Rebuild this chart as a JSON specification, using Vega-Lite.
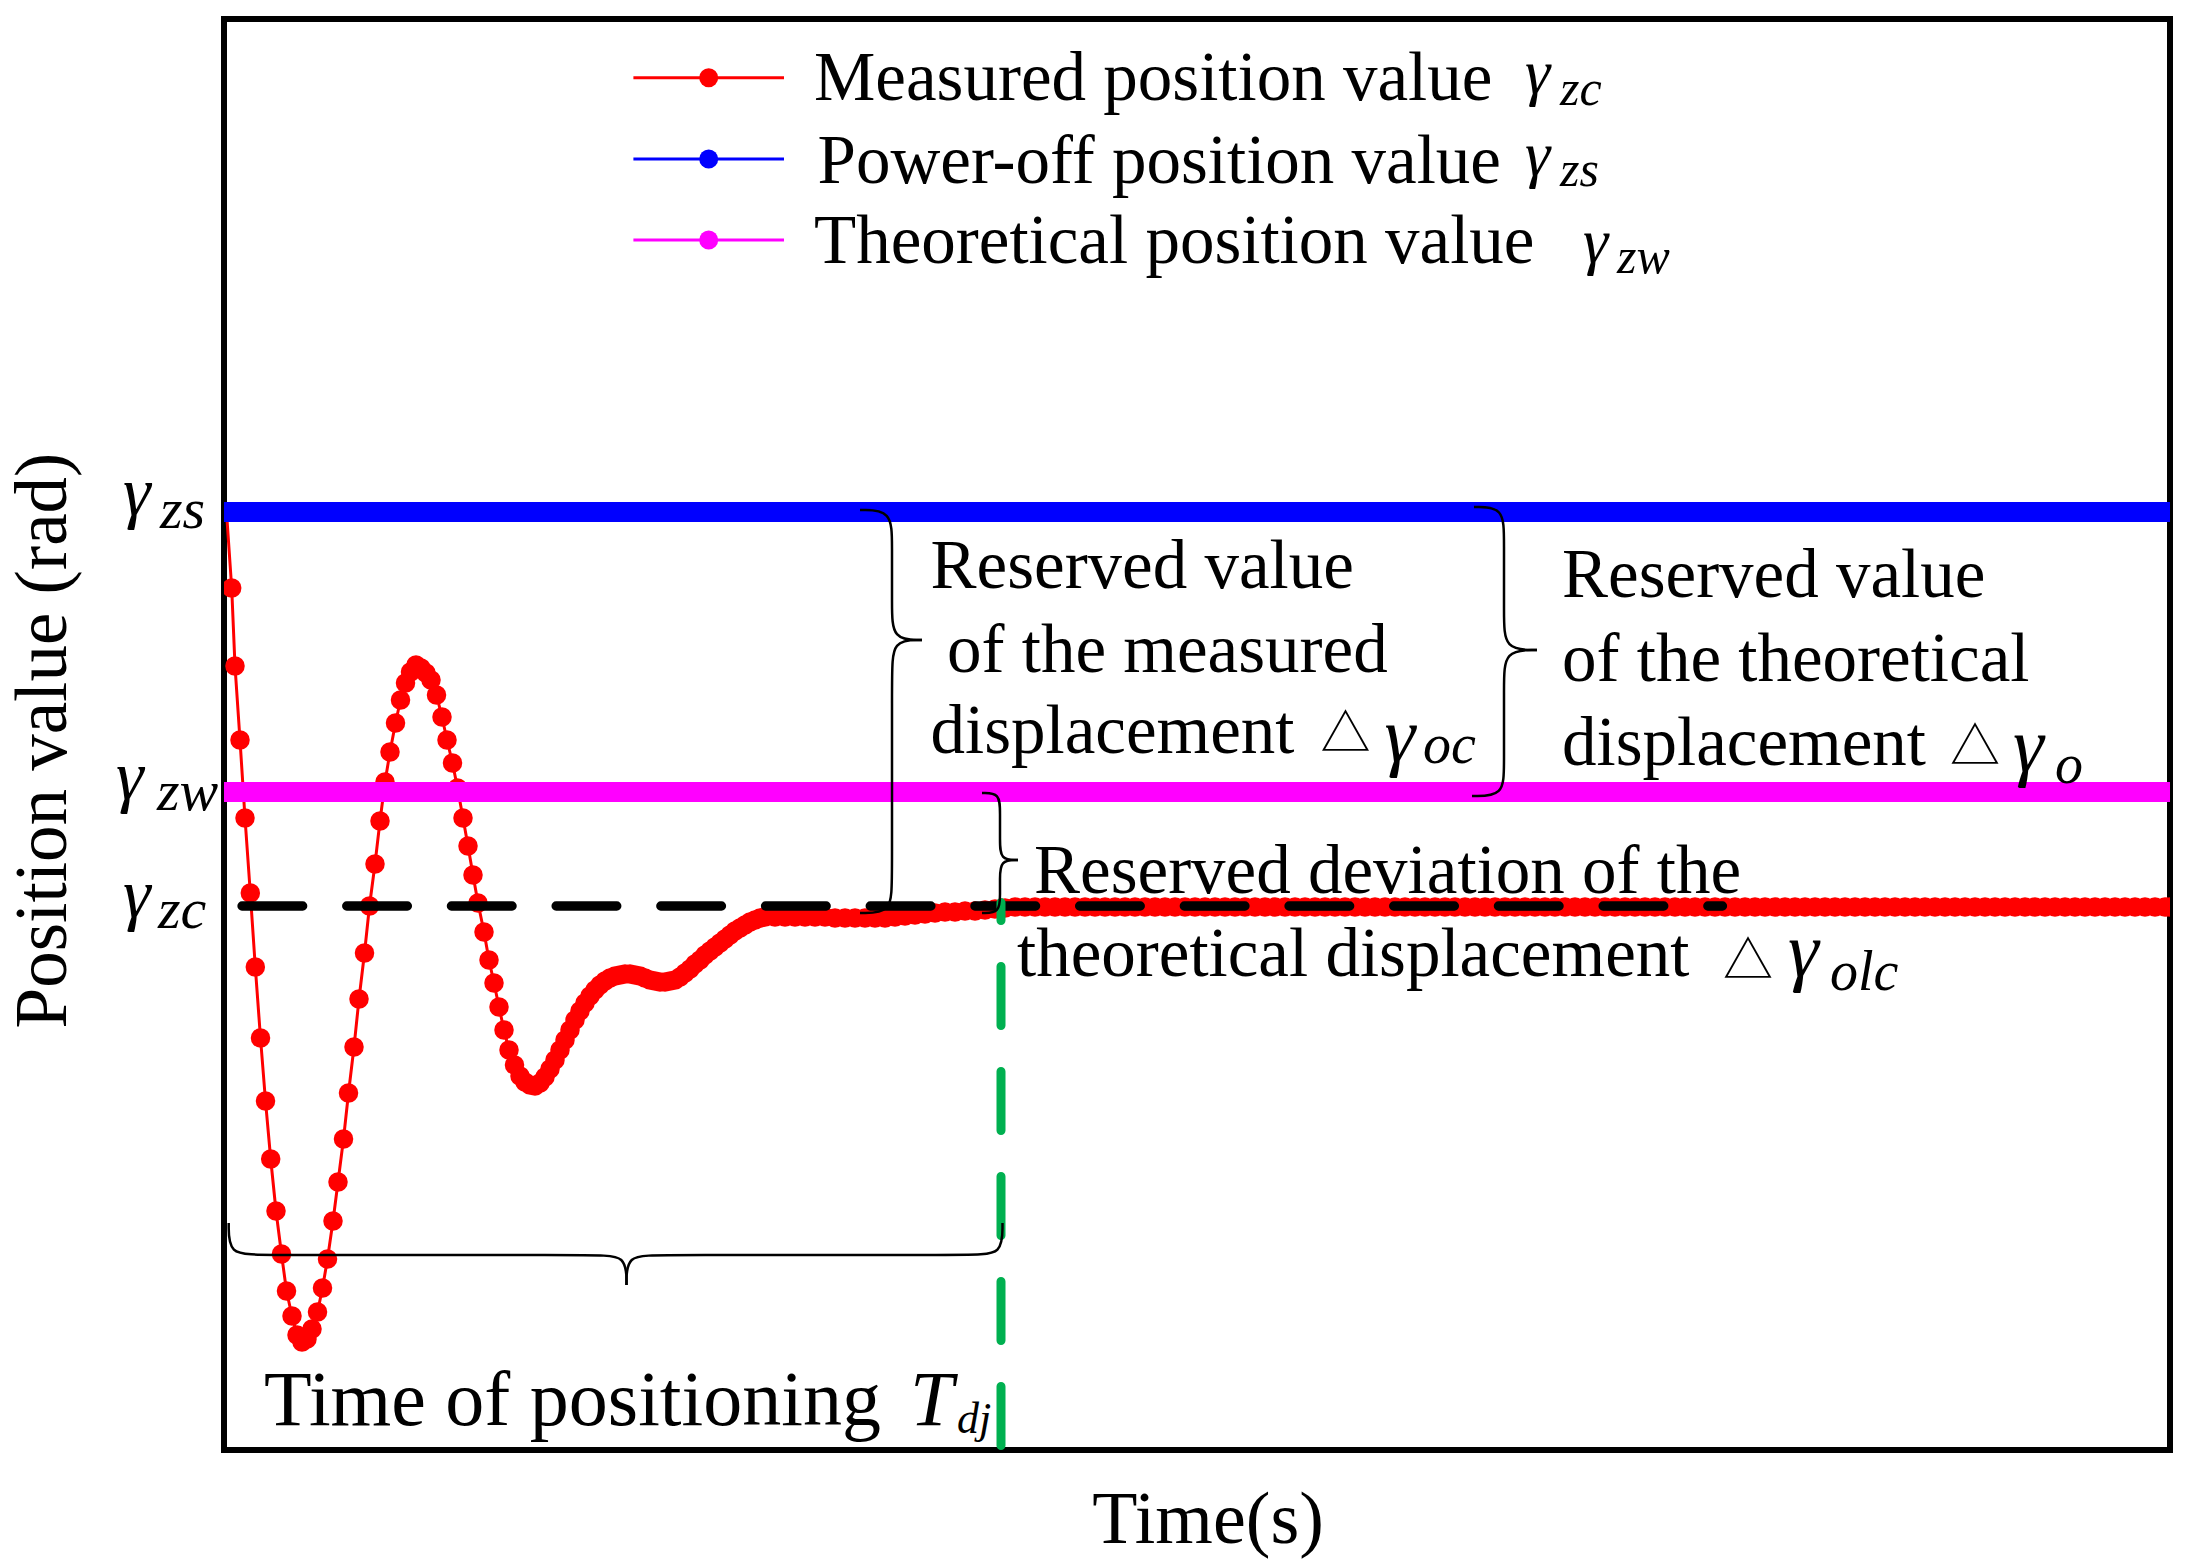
{
"$schema": "https://vega.github.io/schema/vega-lite/v6.json",
"width": 1946,
"height": 1431,
"autosize": {"type": "none"},
"padding": {"left": 224, "top": 19, "right": 24, "bottom": 116},
"background": "#ffffff",
"config": {
  "view": {"stroke": "#000000", "strokeWidth": 6},
  "axis": {"titleFont": "Liberation Serif", "titleFontWeight": "normal", "titleColor": "#000000", "labels": false, "ticks": false, "domain": false, "grid": false}
},
"datasets": {
  "measured": [
    {"t":0.025,"v":9.38},{"t":0.077,"v":8.62},{"t":0.11,"v":7.84},{"t":0.16,"v":7.10},{"t":0.21,"v":6.32},
    {"t":0.263,"v":5.57},{"t":0.313,"v":4.83},{"t":0.365,"v":4.12},{"t":0.415,"v":3.49},{"t":0.467,"v":2.91},
    {"t":0.52,"v":2.39},{"t":0.575,"v":1.96},{"t":0.625,"v":1.59},{"t":0.68,"v":1.34},{"t":0.73,"v":1.15},
    {"t":0.78,"v":1.08},{"t":0.83,"v":1.11},{"t":0.88,"v":1.21},{"t":0.935,"v":1.38},{"t":0.985,"v":1.62},
    {"t":1.035,"v":1.91},{"t":1.09,"v":2.29},{"t":1.14,"v":2.68},{"t":1.195,"v":3.11},{"t":1.245,"v":3.57},
    {"t":1.30,"v":4.03},{"t":1.35,"v":4.51},{"t":1.405,"v":4.97},{"t":1.455,"v":5.44},{"t":1.51,"v":5.86},
    {"t":1.56,"v":6.29},{"t":1.61,"v":6.68},{"t":1.66,"v":6.98},{"t":1.715,"v":7.27},{"t":1.765,"v":7.50},
    {"t":1.815,"v":7.67},{"t":1.865,"v":7.78},{"t":1.92,"v":7.85},{"t":1.97,"v":7.82},{"t":2.02,"v":7.77},
    {"t":2.07,"v":7.70},{"t":2.125,"v":7.55},{"t":2.18,"v":7.33},{"t":2.23,"v":7.10},{"t":2.285,"v":6.87},
    {"t":2.335,"v":6.62},{"t":2.39,"v":6.32},{"t":2.44,"v":6.04},{"t":2.49,"v":5.75},{"t":2.54,"v":5.47},
    {"t":2.60,"v":5.18},{"t":2.65,"v":4.90},{"t":2.70,"v":4.67},{"t":2.75,"v":4.43},{"t":2.80,"v":4.20},
    {"t":2.85,"v":4.00},{"t":2.905,"v":3.85},{"t":2.96,"v":3.74},{"t":3.01,"v":3.68},{"t":3.06,"v":3.65},
    {"t":3.11,"v":3.64},{"t":3.16,"v":3.67},{"t":3.21,"v":3.73},{"t":3.26,"v":3.81},{"t":3.31,"v":3.90},
    {"t":3.36,"v":4.00},{"t":3.41,"v":4.10},{"t":3.46,"v":4.20},{"t":3.51,"v":4.30},{"t":3.56,"v":4.39},
    {"t":3.61,"v":4.47},{"t":3.66,"v":4.54},{"t":3.71,"v":4.60},{"t":3.76,"v":4.65},{"t":3.81,"v":4.69},
    {"t":3.86,"v":4.72},{"t":3.91,"v":4.74},{"t":3.96,"v":4.75},{"t":4.01,"v":4.76},{"t":4.06,"v":4.76},
    {"t":4.11,"v":4.75},{"t":4.16,"v":4.74},{"t":4.21,"v":4.72},{"t":4.26,"v":4.70},{"t":4.31,"v":4.69},
    {"t":4.36,"v":4.68},{"t":4.41,"v":4.68},{"t":4.46,"v":4.69},{"t":4.51,"v":4.70},{"t":4.56,"v":4.73},
    {"t":4.61,"v":4.77},{"t":4.66,"v":4.81},{"t":4.71,"v":4.86},{"t":4.76,"v":4.90},{"t":4.81,"v":4.95},
    {"t":4.86,"v":4.99},{"t":4.91,"v":5.03},{"t":4.96,"v":5.07},{"t":5.01,"v":5.11},{"t":5.06,"v":5.15},
    {"t":5.11,"v":5.19},{"t":5.16,"v":5.22},{"t":5.21,"v":5.25},{"t":5.26,"v":5.28},{"t":5.31,"v":5.30},
    {"t":5.36,"v":5.32},{"t":5.41,"v":5.33},{"t":5.51,"v":5.33},{"t":5.61,"v":5.33},{"t":5.71,"v":5.33},
    {"t":5.81,"v":5.33},{"t":5.91,"v":5.33},{"t":6.01,"v":5.33},{"t":6.11,"v":5.32},{"t":6.21,"v":5.32},
    {"t":6.31,"v":5.32},{"t":6.41,"v":5.32},{"t":6.51,"v":5.32},{"t":6.61,"v":5.32},{"t":6.71,"v":5.33},
    {"t":6.81,"v":5.34},{"t":6.91,"v":5.35},{"t":7.01,"v":5.36},{"t":7.11,"v":5.37},{"t":7.21,"v":5.38},
    {"t":7.31,"v":5.38},{"t":7.41,"v":5.39},{"t":7.51,"v":5.39},{"t":7.61,"v":5.40},{"t":7.71,"v":5.41},
    {"t":7.81,"v":5.42},{"t":7.91,"v":5.43},{"t":8.01,"v":5.43},{"t":8.11,"v":5.43},{"t":8.21,"v":5.43},
    {"t":8.31,"v":5.43},{"t":8.41,"v":5.43},{"t":8.51,"v":5.43},{"t":8.61,"v":5.43},{"t":8.71,"v":5.43},
    {"t":8.81,"v":5.43},{"t":8.91,"v":5.43},{"t":9.01,"v":5.43},{"t":9.11,"v":5.43},{"t":9.21,"v":5.43},
    {"t":9.31,"v":5.43},{"t":9.41,"v":5.43},{"t":9.51,"v":5.43},{"t":9.61,"v":5.43},{"t":9.71,"v":5.43},
    {"t":9.81,"v":5.43},{"t":9.91,"v":5.43},{"t":10.01,"v":5.43},{"t":10.11,"v":5.43},{"t":10.21,"v":5.43},
    {"t":10.31,"v":5.43},{"t":10.41,"v":5.43},{"t":10.51,"v":5.43},{"t":10.61,"v":5.43},{"t":10.71,"v":5.43},
    {"t":10.81,"v":5.43},{"t":10.91,"v":5.43},{"t":11.01,"v":5.43},{"t":11.11,"v":5.43},{"t":11.21,"v":5.43},
    {"t":11.31,"v":5.43},{"t":11.41,"v":5.43},{"t":11.51,"v":5.43},{"t":11.61,"v":5.43},{"t":11.71,"v":5.43},
    {"t":11.81,"v":5.43},{"t":11.91,"v":5.43},{"t":12.01,"v":5.43},{"t":12.11,"v":5.43},{"t":12.21,"v":5.43},
    {"t":12.31,"v":5.43},{"t":12.41,"v":5.43},{"t":12.51,"v":5.43},{"t":12.61,"v":5.43},{"t":12.71,"v":5.43},
    {"t":12.81,"v":5.43},{"t":12.91,"v":5.43},{"t":13.01,"v":5.43},{"t":13.11,"v":5.43},{"t":13.21,"v":5.43},
    {"t":13.31,"v":5.43},{"t":13.41,"v":5.43},{"t":13.51,"v":5.43},{"t":13.61,"v":5.43},{"t":13.71,"v":5.43},
    {"t":13.81,"v":5.43},{"t":13.91,"v":5.43},{"t":14.01,"v":5.43},{"t":14.11,"v":5.43},{"t":14.21,"v":5.43},
    {"t":14.31,"v":5.43},{"t":14.41,"v":5.43},{"t":14.51,"v":5.43},{"t":14.61,"v":5.43},{"t":14.71,"v":5.43},
    {"t":14.81,"v":5.43},{"t":14.91,"v":5.43},{"t":15.01,"v":5.43},{"t":15.11,"v":5.43},{"t":15.21,"v":5.43},
    {"t":15.31,"v":5.43},{"t":15.41,"v":5.43},{"t":15.51,"v":5.43},{"t":15.61,"v":5.43},{"t":15.71,"v":5.43},
    {"t":15.81,"v":5.43},{"t":15.91,"v":5.43},{"t":16.01,"v":5.43},{"t":16.11,"v":5.43},{"t":16.21,"v":5.43},
    {"t":16.31,"v":5.43},{"t":16.41,"v":5.43},{"t":16.51,"v":5.43},{"t":16.61,"v":5.43},{"t":16.71,"v":5.43},
    {"t":16.81,"v":5.43},{"t":16.91,"v":5.43},{"t":17.01,"v":5.43},{"t":17.11,"v":5.43},{"t":17.21,"v":5.43},
    {"t":17.31,"v":5.43},{"t":17.41,"v":5.43},{"t":17.51,"v":5.43},{"t":17.61,"v":5.43},{"t":17.71,"v":5.43},
    {"t":17.81,"v":5.43},{"t":17.91,"v":5.43},{"t":18.01,"v":5.43},{"t":18.11,"v":5.43},{"t":18.21,"v":5.43},
    {"t":18.31,"v":5.43},{"t":18.41,"v":5.43},{"t":18.51,"v":5.43},{"t":18.61,"v":5.43},{"t":18.71,"v":5.43},
    {"t":18.81,"v":5.43},{"t":18.91,"v":5.43},{"t":19.01,"v":5.43},{"t":19.11,"v":5.43},{"t":19.21,"v":5.43},
    {"t":19.31,"v":5.43},{"t":19.41,"v":5.43},{"t":19.46,"v":5.43}
  ],
  "levels": [
    {"series":"Power-off position value","t":0,"t2":19.46,"v":9.38},
    {"series":"Theoretical position value","t":0,"t2":19.46,"v":6.58}
  ],
  "legendKeys": [
    {"series":"Measured position value","t":4.094,"t2":5.60,"tc":4.847,"v":13.723},
    {"series":"Power-off position value","t":4.094,"t2":5.60,"tc":4.847,"v":12.91},
    {"series":"Theoretical position value","t":4.094,"t2":5.60,"tc":4.847,"v":12.10}
  ],
  "settled": [{"t":0.18,"t2":14.985,"v":5.44}],
  "positioning": [{"t":7.77,"v":0.045,"v2":5.475}],
  "braces": [
    {"brace":"b1u","i":0,"t":6.36,"v":9.40},{"brace":"b1u","i":1,"t":6.68,"v":9.40},{"brace":"b1u","i":2,"t":6.68,"v":9.05},
    {"brace":"b1u","i":3,"t":6.68,"v":8.45},{"brace":"b1u","i":4,"t":6.68,"v":8.10},{"brace":"b1u","i":5,"t":6.98,"v":8.10},
    {"brace":"b1l","i":0,"t":6.36,"v":5.37},{"brace":"b1l","i":1,"t":6.68,"v":5.37},{"brace":"b1l","i":2,"t":6.68,"v":5.70},
    {"brace":"b1l","i":3,"t":6.68,"v":7.75},{"brace":"b1l","i":4,"t":6.68,"v":8.10},{"brace":"b1l","i":5,"t":6.98,"v":8.10},
    {"brace":"b2u","i":0,"t":12.50,"v":9.43},{"brace":"b2u","i":1,"t":12.80,"v":9.43},{"brace":"b2u","i":2,"t":12.80,"v":9.10},
    {"brace":"b2u","i":3,"t":12.80,"v":8.35},{"brace":"b2u","i":4,"t":12.80,"v":8.00},{"brace":"b2u","i":5,"t":13.13,"v":8.00},
    {"brace":"b2l","i":0,"t":12.48,"v":6.54},{"brace":"b2l","i":1,"t":12.80,"v":6.54},{"brace":"b2l","i":2,"t":12.80,"v":6.85},
    {"brace":"b2l","i":3,"t":12.80,"v":7.65},{"brace":"b2l","i":4,"t":12.80,"v":8.00},{"brace":"b2l","i":5,"t":13.13,"v":8.00},
    {"brace":"b3u","i":0,"t":7.58,"v":6.57},{"brace":"b3u","i":1,"t":7.76,"v":6.57},{"brace":"b3u","i":2,"t":7.76,"v":6.37},
    {"brace":"b3u","i":3,"t":7.76,"v":6.10},{"brace":"b3u","i":4,"t":7.76,"v":5.90},{"brace":"b3u","i":5,"t":7.94,"v":5.90},
    {"brace":"b3l","i":0,"t":7.58,"v":5.37},{"brace":"b3l","i":1,"t":7.76,"v":5.37},{"brace":"b3l","i":2,"t":7.76,"v":5.57},
    {"brace":"b3l","i":3,"t":7.76,"v":5.70},{"brace":"b3l","i":4,"t":7.76,"v":5.90},{"brace":"b3l","i":5,"t":7.94,"v":5.90},
    {"brace":"b4l","i":0,"t":0.047,"v":2.27},{"brace":"b4l","i":1,"t":0.047,"v":1.95},{"brace":"b4l","i":2,"t":0.36,"v":1.95},
    {"brace":"b4l","i":3,"t":3.71,"v":1.95},{"brace":"b4l","i":4,"t":4.025,"v":1.95},{"brace":"b4l","i":5,"t":4.025,"v":1.65},
    {"brace":"b4r","i":0,"t":7.785,"v":2.27},{"brace":"b4r","i":1,"t":7.785,"v":1.95},{"brace":"b4r","i":2,"t":7.48,"v":1.95},
    {"brace":"b4r","i":3,"t":4.34,"v":1.95},{"brace":"b4r","i":4,"t":4.025,"v":1.95},{"brace":"b4r","i":5,"t":4.025,"v":1.65}
  ],
  "texts": [
    {"role":"note","text":"Measured position value","t":5.90,"v":13.50},
    {"role":"note","text":"Power-off position value","t":5.936,"v":12.67},
    {"role":"note","text":"Theoretical position value","t":5.90,"v":11.87},
    {"role":"gamma-legend","text":"γ","t":13.01,"v":13.57},
    {"role":"sub-legend","text":"zc","t":13.36,"v":13.454},
    {"role":"gamma-legend","text":"γ","t":13.01,"v":12.75},
    {"role":"sub-legend","text":"zs","t":13.36,"v":12.64},
    {"role":"gamma-legend","text":"γ","t":13.59,"v":11.885},
    {"role":"sub-legend","text":"zw","t":13.93,"v":11.77},
    {"role":"gamma-axis","text":"γ","t":-1.01,"v":9.35},
    {"role":"sub-axis","text":"zs","t":-0.64,"v":9.22},
    {"role":"gamma-axis","text":"γ","t":-1.08,"v":6.51},
    {"role":"sub-axis","text":"zw","t":-0.67,"v":6.40},
    {"role":"gamma-axis","text":"γ","t":-1.01,"v":5.33},
    {"role":"sub-axis","text":"zc","t":-0.66,"v":5.22},
    {"role":"note","text":"Reserved value","t":7.065,"v":8.62},
    {"role":"note","text":"of the measured","t":7.23,"v":7.78},
    {"role":"note","text":"displacement","t":7.065,"v":6.97},
    {"role":"triangle","text":"△","t":11.215,"v":7.14},
    {"role":"gamma-note","text":"γ","t":11.606,"v":6.89},
    {"role":"sub-note","text":"oc","t":11.99,"v":6.87},
    {"role":"note","text":"Reserved value","t":13.38,"v":8.53},
    {"role":"note","text":"of the theoretical","t":13.38,"v":7.69},
    {"role":"note","text":"displacement","t":13.38,"v":6.85},
    {"role":"triangle","text":"△","t":17.51,"v":7.015},
    {"role":"gamma-note","text":"γ","t":17.89,"v":6.79},
    {"role":"sub-note","text":"o","t":18.31,"v":6.67},
    {"role":"note","text":"Reserved deviation of the","t":8.10,"v":5.57},
    {"role":"note","text":"theoretical displacement","t":7.93,"v":4.74},
    {"role":"triangle","text":"△","t":15.24,"v":4.875},
    {"role":"gamma-note","text":"γ","t":15.64,"v":4.74},
    {"role":"sub-note","text":"olc","t":16.06,"v":4.60},
    {"role":"note-large","text":"Time of positioning","t":0.40,"v":0.25},
    {"role":"italic-large","text":"T","t":6.86,"v":0.25},
    {"role":"sub-small","text":"dj","t":7.33,"v":0.17}
  ]
},
"encoding": {
  "x": {"field": "t", "type": "quantitative", "scale": {"domain": [0, 19.46], "nice": false, "zero": false},
        "axis": {"title": "Time(s)", "titleFontSize": 74, "titleX": 983.5, "titleY": 92.5, "titleAlign": "center", "titleBaseline": "alphabetic"}},
  "y": {"field": "v", "type": "quantitative", "scale": {"domain": [0, 14.31], "nice": false, "zero": false},
        "axis": {"title": "Position value (rad)", "titleFontSize": 73, "titleAngle": -90, "titleX": -159, "titleY": 721, "titleAlign": "center", "titleBaseline": "alphabetic"}}
},
"layer": [
  {"data": {"name": "measured"}, "mark": {"type": "line", "color": "#ff0000", "strokeWidth": 3, "clip": true}},
  {"data": {"name": "measured"}, "mark": {"type": "circle", "color": "#ff0000", "size": 380, "opacity": 1, "clip": true}},
  {"data": {"name": "levels"}, "mark": {"type": "rule", "strokeWidth": 20, "strokeCap": "butt", "clip": true},
   "encoding": {"x2": {"field": "t2"},
     "color": {"field": "series", "type": "nominal", "scale": {"domain": ["Measured position value", "Power-off position value", "Theoretical position value"], "range": ["#ff0000", "#0000ff", "#ff00ff"]}, "legend": null}}},
  {"data": {"name": "settled"}, "mark": {"type": "rule", "color": "#000000", "strokeWidth": 9.3, "strokeDash": [60.7, 44], "strokeCap": "round"},
   "encoding": {"x2": {"field": "t2"}}},
  {"data": {"name": "positioning"}, "mark": {"type": "rule", "color": "#00b050", "strokeWidth": 9, "strokeDash": [59, 46], "strokeCap": "round"},
   "encoding": {"y2": {"field": "v2"}}},
  {"data": {"name": "braces"}, "mark": {"type": "line", "interpolate": "basis", "color": "#000000", "strokeWidth": 2.5},
   "encoding": {"detail": {"field": "brace", "type": "nominal"}, "order": {"field": "i", "type": "quantitative"}}},
  {"data": {"name": "legendKeys"}, "mark": {"type": "rule", "strokeWidth": 3},
   "encoding": {"x2": {"field": "t2"},
     "color": {"field": "series", "type": "nominal", "scale": {"domain": ["Measured position value", "Power-off position value", "Theoretical position value"], "range": ["#ff0000", "#0000ff", "#ff00ff"]}, "legend": null}}},
  {"data": {"name": "legendKeys"}, "mark": {"type": "circle", "size": 360, "opacity": 1},
   "encoding": {"x": {"field": "tc", "type": "quantitative"},
     "color": {"field": "series", "type": "nominal", "scale": {"domain": ["Measured position value", "Power-off position value", "Theoretical position value"], "range": ["#ff0000", "#0000ff", "#ff00ff"]}, "legend": null}}},
  {"data": {"name": "texts"}, "transform": [{"filter": "datum.role === 'note'"}],
   "mark": {"type": "text", "font": "Liberation Serif", "fontSize": 69, "align": "left", "baseline": "alphabetic", "color": "#000000"},
   "encoding": {"text": {"field": "text"}}},
  {"data": {"name": "texts"}, "transform": [{"filter": "datum.role === 'note-large'"}],
   "mark": {"type": "text", "font": "Liberation Serif", "fontSize": 78, "align": "left", "baseline": "alphabetic", "color": "#000000"},
   "encoding": {"text": {"field": "text"}}},
  {"data": {"name": "texts"}, "transform": [{"filter": "datum.role === 'italic-large'"}],
   "mark": {"type": "text", "font": "Liberation Serif", "fontStyle": "italic", "fontSize": 78, "align": "left", "baseline": "alphabetic", "color": "#000000"},
   "encoding": {"text": {"field": "text"}}},
  {"data": {"name": "texts"}, "transform": [{"filter": "datum.role === 'sub-small'"}],
   "mark": {"type": "text", "font": "Liberation Serif", "fontStyle": "italic", "fontSize": 44, "align": "left", "baseline": "alphabetic", "color": "#000000"},
   "encoding": {"text": {"field": "text"}}},
  {"data": {"name": "texts"}, "transform": [{"filter": "datum.role === 'gamma-axis'"}],
   "mark": {"type": "text", "font": "Liberation Serif", "fontStyle": "italic", "fontSize": 70, "align": "left", "baseline": "alphabetic", "color": "#000000"},
   "encoding": {"text": {"field": "text"}}},
  {"data": {"name": "texts"}, "transform": [{"filter": "datum.role === 'sub-axis'"}],
   "mark": {"type": "text", "font": "Liberation Serif", "fontStyle": "italic", "fontSize": 58, "align": "left", "baseline": "alphabetic", "color": "#000000"},
   "encoding": {"text": {"field": "text"}}},
  {"data": {"name": "texts"}, "transform": [{"filter": "datum.role === 'gamma-legend'"}],
   "mark": {"type": "text", "font": "Liberation Serif", "fontStyle": "italic", "fontSize": 64, "align": "left", "baseline": "alphabetic", "color": "#000000"},
   "encoding": {"text": {"field": "text"}}},
  {"data": {"name": "texts"}, "transform": [{"filter": "datum.role === 'sub-legend'"}],
   "mark": {"type": "text", "font": "Liberation Serif", "fontStyle": "italic", "fontSize": 50, "align": "left", "baseline": "alphabetic", "color": "#000000"},
   "encoding": {"text": {"field": "text"}}},
  {"data": {"name": "texts"}, "transform": [{"filter": "datum.role === 'gamma-note'"}],
   "mark": {"type": "text", "font": "Liberation Serif", "fontStyle": "italic", "fontSize": 78, "align": "left", "baseline": "alphabetic", "color": "#000000"},
   "encoding": {"text": {"field": "text"}}},
  {"data": {"name": "texts"}, "transform": [{"filter": "datum.role === 'sub-note'"}],
   "mark": {"type": "text", "font": "Liberation Serif", "fontStyle": "italic", "fontSize": 56, "align": "left", "baseline": "alphabetic", "color": "#000000"},
   "encoding": {"text": {"field": "text"}}},
  {"data": {"name": "texts"}, "transform": [{"filter": "datum.role === 'triangle'"}],
   "mark": {"type": "text", "font": "Noto Sans CJK SC", "fontSize": 50, "align": "center", "baseline": "middle", "color": "#000000"},
   "encoding": {"text": {"field": "text"}}}
]
}
